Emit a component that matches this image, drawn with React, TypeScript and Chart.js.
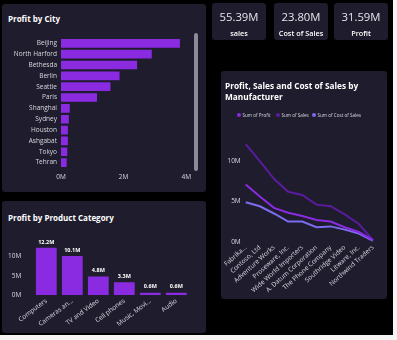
import React, { useEffect, useRef } from "react";
import { Chart, registerables } from "chart.js";

Chart.register(...registerables);

// ---------- data ----------
const cities = ["Beijing", "North Harford", "Bethesda", "Berlin", "Seattle", "Paris", "Shanghai", "Sydney", "Houston", "Ashgabat", "Tokyo", "Tehran"];
const cityProfit = [3.8, 2.9, 2.43, 1.87, 1.58, 1.15, 0.28, 0.25, 0.22, 0.22, 0.2, 0.18]; // millions

const categories = ["Computers", "Cameras an...", "TV and Video", "Cell phones", "Music, Movi...", "Audio"];
const categoryProfit = [12.2, 10.1, 4.8, 3.3, 0.6, 0.6]; // millions
const categoryLabels = ["12.2M", "10.1M", "4.8M", "3.3M", "0.6M", "0.6M"];

const manufacturers = ["Fabrika...", "Contoso, Ltd", "Adventure Works", "Proseware, Inc.", "Wide World Importers", "A. Datum Corporation", "The Phone Company", "Southridge Video", "Litware, Inc.", "Northwind Traders"];
const mfrProfit = [7.1, 5.6, 4.2, 3.6, 3.2, 2.7, 2.5, 1.8, 1.2, 0.2];
const mfrSales = [12.1, 10.0, 7.8, 6.2, 5.8, 4.6, 4.4, 3.4, 2.2, 0.2];
const mfrCost = [4.9, 4.4, 3.5, 2.5, 2.5, 1.8, 1.9, 1.5, 1.0, 0.1];
const seriesNames = ["Sum of Profit", "Sum of Sales", "Sum of Cost of Sales"];

const kpiValues = ["55.39M", "23.80M", "31.59M"];
const kpiLabels = ["sales", "Cost of Sales", "Profit"];

// ---------- style ----------
const PANEL = "#1e1c2d";
const PURPLE = "#8a2be2";
const SALES = "#5a1c9e";
const COST = "#7b6cf0";
const TEXT = "#d8d8e0";
const FONT = "'Open Sans', 'Noto Sans', sans-serif";

const mLabel = (v: any) => (Number(v) % 5 === 0 ? `${v}M` : "");

function useChart(ref: React.RefObject<HTMLCanvasElement>, make: () => any) {
  useEffect(() => {
    if (!ref.current) return;
    const c = new Chart(ref.current, make());
    return () => c.destroy();
  }, []);
}

const barLabelPlugin = {
  id: "barLabels",
  afterDatasetsDraw(chart: any) {
    const ctx = chart.ctx;
    const meta = chart.getDatasetMeta(0);
    ctx.save();
    ctx.fillStyle = "#ffffff";
    ctx.font = `bold 5.5px ${FONT}`;
    ctx.textAlign = "center";
    ctx.textBaseline = "bottom";
    meta.data.forEach((el: any, i: number) => {
      ctx.fillText(categoryLabels[i], el.x, el.y - 3);
    });
    ctx.restore();
  },
};

const panel = (l: number, t: number, w: number, h: number): React.CSSProperties => ({
  position: "absolute",
  left: l,
  top: t,
  width: w,
  height: h,
  background: PANEL,
  borderRadius: 3,
});

export default function App() {
  const cityRef = useRef<HTMLCanvasElement>(null);
  const catRef = useRef<HTMLCanvasElement>(null);
  const lineRef = useRef<HTMLCanvasElement>(null);

  useChart(cityRef, () => ({
    type: "bar",
    data: {
      labels: cities,
      datasets: [{ data: cityProfit, backgroundColor: PURPLE, barPercentage: 0.8, categoryPercentage: 1 }],
    },
    options: {
      indexAxis: "y",
      responsive: false,
      animation: false,
      layout: { padding: { top: 6.5, right: 7, left: 0, bottom: 0 } },
      plugins: { legend: { display: false }, tooltip: { enabled: false } },
      scales: {
        x: {
          min: 0,
          max: 4,
          ticks: { stepSize: 2, callback: (v: any) => `${v}M`, color: TEXT, font: { family: FONT, size: 6.5 }, padding: 5, maxRotation: 0 },
          grid: { display: false, drawTicks: false },
          border: { display: false },
          afterFit: (s: any) => { s.height = 14; },
        },
        y: {
          ticks: { color: TEXT, font: { family: FONT, size: 6.5 }, padding: 4, autoSkip: false },
          grid: { display: false, drawTicks: false },
          border: { display: false },
          afterFit: (s: any) => { s.width = 59; },
        },
      },
    },
  }));

  useChart(catRef, () => ({
    type: "bar",
    data: {
      labels: categories,
      datasets: [{ data: categoryProfit, backgroundColor: PURPLE, barPercentage: 0.8, categoryPercentage: 1 }],
    },
    plugins: [barLabelPlugin],
    options: {
      responsive: false,
      animation: false,
      layout: { padding: { top: 10.2, right: 10.7, left: 0, bottom: 0 } },
      plugins: { legend: { display: false }, tooltip: { enabled: false } },
      scales: {
        x: {
          ticks: { color: TEXT, font: { family: FONT, size: 6.5 }, padding: 2, minRotation: 37, maxRotation: 37, autoSkip: false },
          grid: { display: false, drawTicks: false },
          border: { display: false },
          afterFit: (s: any) => { s.height = 38; },
        },
        y: {
          min: 0,
          max: 14,
          ticks: { stepSize: 5, callback: mLabel, color: TEXT, font: { family: FONT, size: 6.5 }, padding: 12 },
          grid: { display: false, drawTicks: false },
          border: { display: false },
          afterFit: (s: any) => { s.width = 31.3; },
        },
      },
    },
  }));

  useChart(lineRef, () => ({
    type: "line",
    data: {
      labels: manufacturers,
      datasets: [
        { label: seriesNames[0], data: mfrProfit, borderColor: PURPLE, borderWidth: 2, pointRadius: 0, tension: 0 },
        { label: seriesNames[1], data: mfrSales, borderColor: SALES, borderWidth: 2, pointRadius: 0, tension: 0 },
        { label: seriesNames[2], data: mfrCost, borderColor: COST, borderWidth: 2, pointRadius: 0, tension: 0 },
      ],
    },
    options: {
      responsive: false,
      animation: false,
      layout: { padding: { top: 6.3, right: 13, left: 0, bottom: 0 } },
      plugins: { legend: { display: false }, tooltip: { enabled: false } },
      scales: {
        x: {
          ticks: { color: TEXT, font: { family: FONT, size: 6.5 }, padding: 2, minRotation: 42, maxRotation: 42, autoSkip: false },
          grid: { display: false, drawTicks: false },
          border: { display: false },
          afterFit: (s: any) => { s.height = 53.3; },
        },
        y: {
          min: 0,
          max: 14,
          ticks: { stepSize: 5, callback: mLabel, color: TEXT, font: { family: FONT, size: 6.5 }, padding: 5 },
          grid: { display: false, drawTicks: false },
          border: { display: false },
          afterFit: (s: any) => { s.width = 23.7; },
        },
      },
    },
  }));

  const title: React.CSSProperties = {
    position: "absolute",
    color: "#ffffff",
    fontFamily: FONT,
    fontWeight: 700,
    fontSize: 8,
    whiteSpace: "nowrap",
    lineHeight: "11px",
  };

  const legendColors = [PURPLE, SALES, COST];
  const legendX = [237, 276, 312];

  return (
    <div style={{ position: "fixed", left: 0, top: 0, width: 397, height: 340, background: "#f4f4f4", overflow: "hidden" }}>
      <div style={{ position: "absolute", left: 0, top: 0, width: 393, height: 335, background: "#000" }} />

      {/* Profit by City */}
      <div style={panel(2, 4, 204, 188)} />
      <div style={{ ...title, left: 8, top: 13 }}>Profit by City</div>
      <canvas ref={cityRef} width={194} height={152} style={{ position: "absolute", left: 2, top: 30, width: 194, height: 152 }} />
      <div style={{ position: "absolute", left: 194, top: 33, width: 4, height: 138, background: "#8b8a96", borderRadius: 2 }} />

      {/* Profit by Product Category */}
      <div style={panel(2, 201, 204, 132)} />
      <div style={{ ...title, left: 8, top: 212 }}>Profit by Product Category</div>
      <canvas ref={catRef} width={198} height={108} style={{ position: "absolute", left: 2, top: 225, width: 198, height: 108 }} />

      {/* KPI cards */}
      {kpiValues.map((v, i) => {
        const left = [212, 274, 334][i];
        return (
          <div key={i} style={{ ...panel(left, 3, 54, 37) }}>
            <div style={{ position: "absolute", left: 0, right: 0, top: 7, textAlign: "center", color: "#e4e4ec", fontFamily: FONT, fontSize: 11.3, lineHeight: "14px" }}>{v}</div>
            <div style={{ position: "absolute", left: 0, right: 0, top: 24.5, textAlign: "center", color: "#ffffff", fontFamily: FONT, fontWeight: 600, fontSize: 7.3, lineHeight: "10px", whiteSpace: "nowrap" }}>{kpiLabels[i]}</div>
          </div>
        );
      })}

      {/* Line chart panel */}
      <div style={panel(221, 71, 166, 228)} />
      <div style={{ ...title, left: 225, top: 80, fontSize: 8.3 }}>
        Profit, Sales and Cost of Sales by
        <br />
        Manufacturer
      </div>
      {seriesNames.map((n, i) => (
        <div key={n} style={{ position: "absolute", left: legendX[i], top: 112, display: "flex", alignItems: "center", gap: 1.5, color: TEXT, fontFamily: FONT, fontSize: 4.6, lineHeight: "6px", whiteSpace: "nowrap" }}>
          <span style={{ display: "inline-block", width: 4, height: 4, borderRadius: 2, background: legendColors[i] }} />
          <span>{n}</span>
        </div>
      ))}
      <canvas ref={lineRef} width={164} height={175} style={{ position: "absolute", left: 222, top: 120, width: 164, height: 175 }} />
    </div>
  );
}
